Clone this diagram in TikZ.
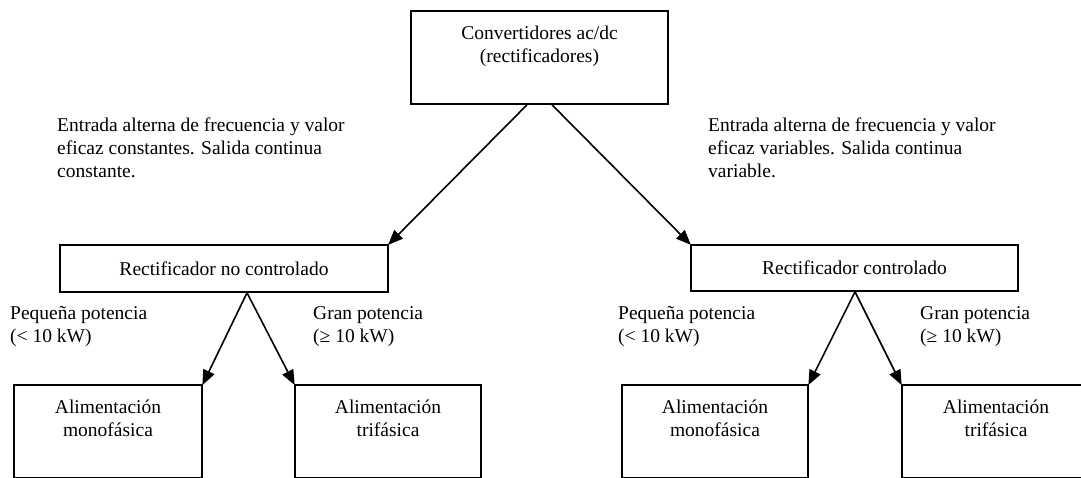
\documentclass[tikz,border=0pt]{standalone}
\usepackage{fontspec}
\setmainfont{Liberation Serif}
\usetikzlibrary{arrows.meta}
\tikzset{
  boxnode/.style={draw, line width=1.6pt, inner sep=0pt, rectangle},
  txt/.style={inner sep=0pt, font=\fontsize{19.5}{23}\selectfont},
  conn/.style={line width=1.6pt, -{Triangle[length=15pt,width=12pt]}, shorten >=-1pt}
}
\begin{document}
\begin{tikzpicture}[x=1pt,y=-1pt]
\useasboundingbox (0,0) rectangle (1081,478);
\clip (0,0) rectangle (1081,478);
% boxes
\node[boxnode, minimum width=257pt, minimum height=93pt] (top) at (539.5,57.5) {};
\node[txt, anchor=north, align=center] (toptxt) at (539.5,26) {Convertidores ac/dc\\(rectificadores)};
\node[boxnode, minimum width=328pt, minimum height=47pt] (ml) at (224,268.5) {};
\node[txt] (mltxt) at (ml.center) {Rectificador no controlado};
\node[boxnode, minimum width=327pt, minimum height=46pt] (mr) at (854.5,268) {};
\node[txt] (mrtxt) at (mr.center) {Rectificador controlado};
\node[boxnode, minimum width=188pt, minimum height=93pt] (b1) at (108,431.5) {};
\node[boxnode, minimum width=186pt, minimum height=93pt] (b2) at (388,431.5) {};
\node[boxnode, minimum width=186pt, minimum height=93pt] (b3) at (715,431.5) {};
\node[boxnode, minimum width=188pt, minimum height=93pt] (b4) at (996,431.5) {};
\node[txt, anchor=north, align=center] (b1txt) at (108,400) {Alimentación\\monofásica};
\node[txt, anchor=north, align=center] (b2txt) at (388,400) {Alimentación\\trifásica};
\node[txt, anchor=north, align=center] (b3txt) at (715,400) {Alimentación\\monofásica};
\node[txt, anchor=north, align=center] (b4txt) at (996,400) {Alimentación\\trifásica};
% annotations
\node[txt, anchor=north west, align=left] (ta) at (57,118) {Entrada alterna de frecuencia y valor\\eficaz constantes. Salida continua\\constante.};
\node[txt, anchor=north west, align=left] (tb) at (708,118) {Entrada alterna de frecuencia y valor\\eficaz variables. Salida continua\\variable.};
\node[txt, anchor=north west, align=left] (pa) at (10,306) {Pequeña potencia\\(< 10 kW)};
\node[txt, anchor=north west, align=left] (ga) at (313,306) {Gran potencia\\(≥ 10 kW)};
\node[txt, anchor=north west, align=left] (pb) at (618,306) {Pequeña potencia\\(< 10 kW)};
\node[txt, anchor=north west, align=left] (gb) at (920,306) {Gran potencia\\(≥ 10 kW)};
% connectors
\draw[conn] ([xshift=-12.5pt]top.south) -- (ml.north east);
\draw[conn] ([xshift=12.5pt]top.south) -- (mr.north west);
\draw[conn] ([xshift=23pt]ml.south) -- (b1.north east);
\draw[conn] ([xshift=23pt]ml.south) -- (b2.north west);
\draw[conn] ([xshift=0.5pt]mr.south) -- (b3.north east);
\draw[conn] ([xshift=0.5pt]mr.south) -- (b4.north west);
\end{tikzpicture}
\end{document}
